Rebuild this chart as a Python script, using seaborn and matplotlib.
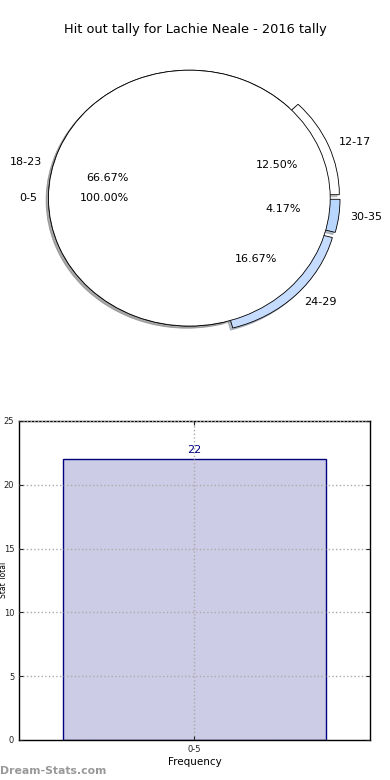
import matplotlib
matplotlib.use("Agg")
import matplotlib.pyplot as plt
import seaborn as sns
import pandas as pd

# data (games per hit-out bin, 24 games)
title = "Hit out tally for Lachie Neale - 2016 tally"
full_labels = ["0-5"]
full_values = [24]
ring_labels = ["12-17", "30-35", "24-29", "18-23"]
ring_values = [3, 1, 4, 16]
ring_colors = ["#ffffff", "#b9d6ff", "#c6dcff", "#ffffff"]
ring_explode = [0.07, 0.07, 0.07, 0.0]

bar_labels = ["0-5"]
bar_values = [22]

fig = plt.figure(figsize=(3.9, 7.8), dpi=100)
fig.patch.set_facecolor("white")

shadow = {"ox": -0.012, "oy": -0.012, "shade": 0.45}
wedge_style = {"edgecolor": "black", "linewidth": 0.6}

# top: pie (two pies drawn over each other, like the source)
ax1 = fig.add_axes([0.034, 0.541, 0.903, 0.410])
ax1.pie(ring_values, labels=ring_labels, colors=ring_colors, explode=ring_explode,
        autopct="%1.2f%%", startangle=45, counterclock=False, shadow=shadow,
        labeldistance=1.08, wedgeprops=wedge_style, textprops={"fontsize": 8})
ax1.pie(full_values, labels=full_labels, colors=["#ffffff"], autopct="%1.2f%%",
        startangle=0, shadow=shadow, labeldistance=1.08,
        wedgeprops=wedge_style, textprops={"fontsize": 8})
ax1.set_aspect("auto")
ax1.set_xlim(-1.25, 1.25)
ax1.set_ylim(-1.25, 1.25)
fig.text(0.5, 0.962, title, ha="center", va="center", fontsize=9.3)

# bottom: bar chart
ax2 = fig.add_axes([0.0487, 0.0513, 0.9, 0.409])
df = pd.DataFrame({"bin": bar_labels, "count": bar_values})
sns.barplot(data=df, x="bin", y="count", ax=ax2, color="#ccccE6", saturation=1,
            edgecolor="#000080", linewidth=1.0, width=0.75)
ax2.set_xlim(-0.5, 0.5)
ax2.set_ylim(0, 25)
ax2.set_yticks([0, 5, 10, 15, 20, 25])
ax2.grid(True, linestyle=":", color="#aaaaaa", linewidth=1.0)
ax2.set_axisbelow(False)
ax2.tick_params(direction="in", labelsize=6, length=3, right=True, top=True,
                colors="#222222")
for s in ax2.spines.values():
    s.set_linewidth(1.0)
ax2.set_xlabel("Frequency", fontsize=7.5, labelpad=2)
ax2.set_ylabel("")
for p, v in zip(ax2.patches, bar_values):
    ax2.text(p.get_x() + p.get_width() / 2, v + 0.3, str(v), ha="center", va="bottom",
             fontsize=8, color="#000080")
# y label sits in the narrow gap left of the tick labels, between 15 and 10
fig.text(0.009, 0.256, "Stat Total", rotation=90, ha="center", va="center", fontsize=5.5)

fig.text(0.0, 0.012, "Dream-Stats.com", ha="left", va="center", fontsize=7.8,
         color="#999999", fontweight="bold")

fig.savefig("out.png", dpi=100)
